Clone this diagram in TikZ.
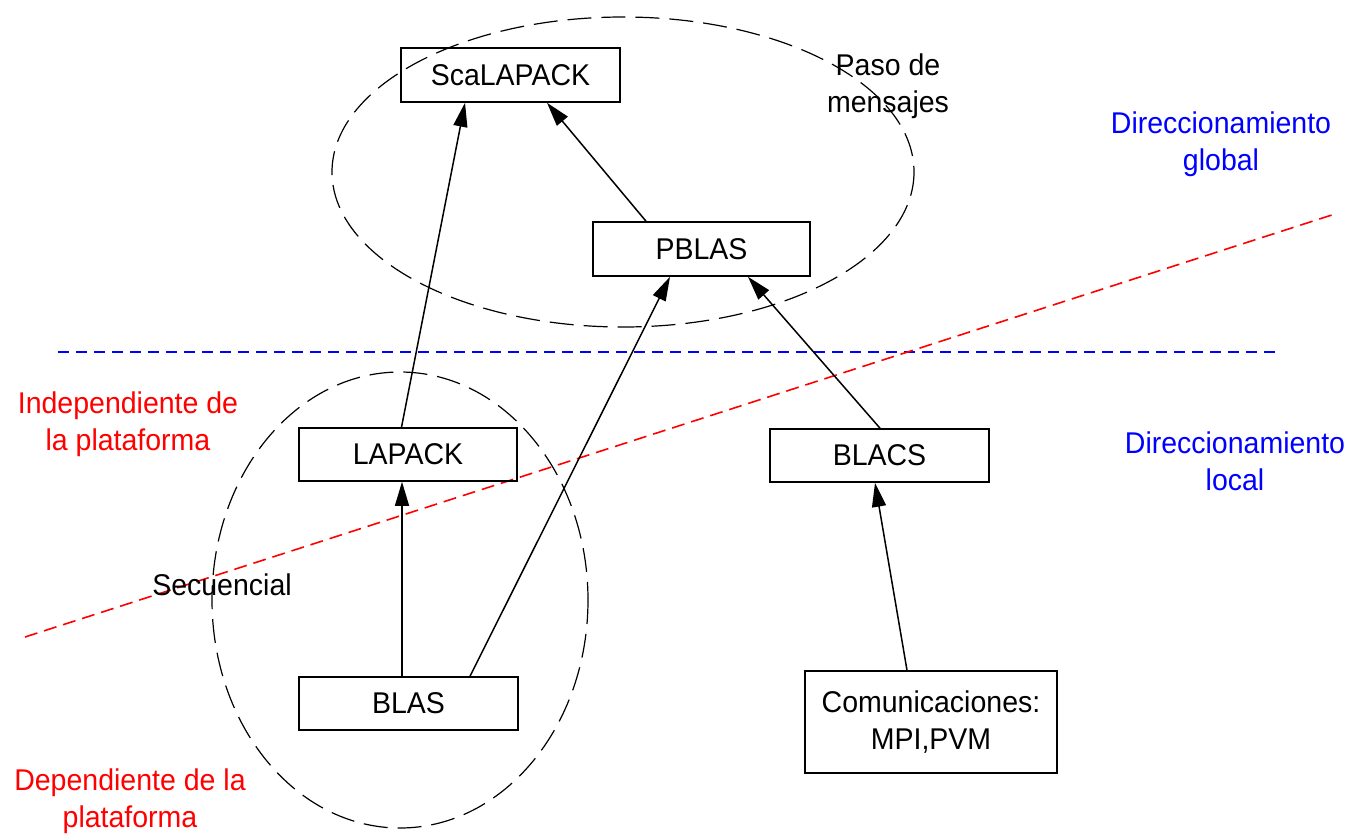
\documentclass[tikz,border=0pt]{standalone}
\usepackage{fontspec}
\setmainfont{Liberation Sans}[FakeStretch=0.95]
\usetikzlibrary{arrows.meta}
\begin{document}
\begin{tikzpicture}[x=1pt,y=-1pt,
  box/.style={draw,line width=1.6pt,inner sep=0pt,font=\fontsize{30}{37}\selectfont},
  arr/.style={line width=1.5pt,-{Triangle[length=24pt,width=14pt]}},
  lbl/.style={align=center,font=\fontsize{30}{37}\selectfont,inner sep=0pt},
  ell/.style={line width=1.2pt,dash pattern=on 24pt off 10pt}]
\useasboundingbox (0,0) rectangle (1354,838);
\fill[white] (0,0) rectangle (1354,838);
% ellipses
\draw[ell] (623,172) ellipse [x radius=291, y radius=155];
\draw[ell] (400,600) ellipse [x radius=188, y radius=228];
% dividing lines
\draw[blue,line width=1.3pt,dash pattern=on 11pt off 7pt] (58,352) -- (1278,352);
\draw[red,line width=1.6pt,dash pattern=on 13pt off 7pt] (25,637) -- (1338,213);
% boxes
\node[box,minimum width=219pt,minimum height=54pt] (sca) at (510.5,75) {ScaLAPACK};
\node[box,minimum width=217pt,minimum height=54pt] (pblas) at (701.5,249) {PBLAS};
\node[box,minimum width=218pt,minimum height=53pt] (lapack) at (408,454.5) {LAPACK};
\node[box,minimum width=219pt,minimum height=53pt] (blacs) at (879.5,455.5) {BLACS};
\node[box,minimum width=219pt,minimum height=53pt] (blas) at (408.5,703.5) {BLAS};
\node[box,minimum width=252pt,minimum height=102pt,align=center] (com) at (931,722) {Comunicaciones:\\MPI,PVM};
% arrows
\draw[arr] ([xshift=-6.5pt]lapack.north) -- ([xshift=-45.5pt]sca.south);
\draw[arr] ([xshift=-55.5pt]pblas.north) -- ([xshift=36.5pt]sca.south);
\draw[arr] ([xshift=-6.5pt]blas.north) -- ([xshift=-6pt]lapack.south);
\draw[arr] ([xshift=61.5pt]blas.north) -- ([xshift=-31.5pt]pblas.south);
\draw[arr] ([xshift=0.5pt]blacs.north) -- ([xshift=46.5pt]pblas.south);
\draw[arr] ([xshift=-24pt]com.north) -- ([xshift=-4.5pt]blacs.south);
% labels
\node[lbl] (paso) at (888,86) {Paso de\\mensajes};
\node[lbl,text=blue] (dg) at (1221,144) {Direccionamiento\\global};
\node[lbl,text=blue] (dl) at (1235,461) {Direccionamiento\\local};
\node[lbl,text=red] (ind) at (128,424) {Independiente de\\la plataforma};
\node[lbl,text=red] (dep) at (130,801) {Dependiente de la\\plataforma};
\node[lbl] (sec) at (222,585) {Secuencial};
\end{tikzpicture}
\end{document}
